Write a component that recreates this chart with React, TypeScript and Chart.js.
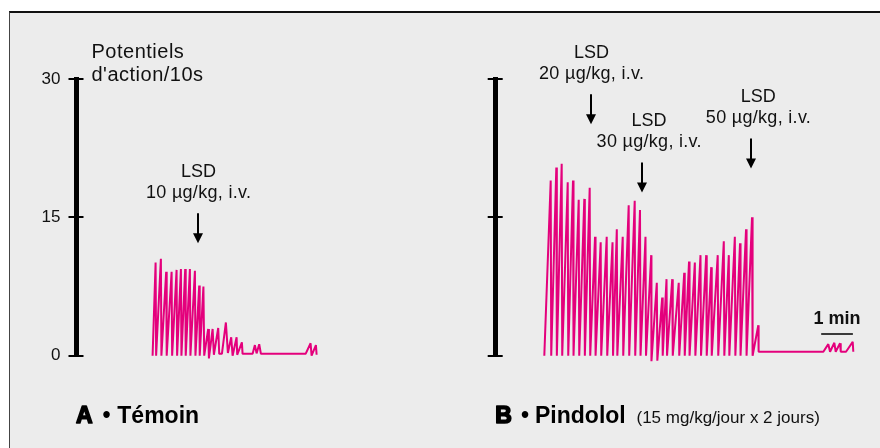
import React, { useEffect, useRef } from 'react';
import { Chart, registerables } from 'chart.js';

Chart.register(...registerables);

// ---------------- data ----------------
const Y_TICKS = [0, 15, 30];
const Y_TITLE = ['Potentiels', "d'action/10s"];
const DRUG = 'LSD';

// Panel A (Témoin): time in s from start of trace, potentiels d'action / 10 s
const TIME_A = [0, 5.7, 6.7, 15.7, 16.7, 25.7, 26.7, 36.0, 37.0, 45.4, 46.4, 53.6, 54.6, 61.7, 62.7, 70.6, 71.6, 80.1, 81.1, 88.2, 89.2, 96.2, 97.7, 105.2, 106.6, 113.6, 116.0, 124.2, 126.1, 131.2, 138.7, 142.5, 148.8, 151.4, 159.0, 160.1, 169.0, 170.3, 189.3, 193.6, 196.8, 201.8, 205.0, 289.6, 299.0, 300.9, 309.1, 310.4];
const RATE_A = [0, 10.1, 0, 10.5, 0, 9.1, 0, 9.1, 0, 9.3, 0, 9.4, 0, 9.4, 0, 9.4, 0, 9.2, 0, 7.6, 0, 7.5, 0, 2.9, -0.3, 2.9, 0.1, 3.0, 0.2, 0.2, 3.6, 0.3, 2.0, 0, 2.0, 0.1, 1.45, 0.2, 0.2, 1.15, 0.25, 1.25, 0.2, 0.2, 1.35, 0, 1.15, 0.1];

// Panel B (Pindolol)
const TIME_B = [0, 12.1, 13.1, 22.7, 23.7, 32.9, 33.9, 44.3, 45.3, 54.3, 55.3, 65.1, 66.1, 75.7, 76.7, 85.9, 86.9, 96.0, 97.0, 106.7, 107.7, 118.1, 119.1, 129.1, 130.1, 137.2, 138.2, 148.4, 149.4, 159.7, 160.7, 171.1, 172.1, 181.1, 182.1, 191.5, 192.5, 202.3, 202.8, 212.9, 213.9, 223.1, 224.1, 231.3, 232.3, 242.1, 243.1, 254.4, 255.4, 264.8, 265.8, 273.9, 274.9, 284.9, 285.9, 295.6, 296.6, 306.4, 307.4, 315.9, 316.9, 328.2, 329.2, 339.7, 340.7, 349.2, 350.2, 360.6, 361.6, 370.4, 371.4, 381.8, 382.8, 393.1, 394.2, 405.0, 405.6, 528.1, 537.5, 540.8, 548.9, 551.5, 559.7, 561.0, 571.0, 583.7, 584.8];
const RATE_B = [0, 19.0, 0, 20.4, 0, 20.8, 0, 18.8, 0, 19.0, 0, 16.9, 0, 17.0, 0, 18.2, 0, 12.9, 0, 12.3, 0, 12.9, 0, 12.3, 0, 13.7, 0, 12.9, 0, 16.3, 0, 16.8, 0, 15.8, 0, 12.9, 0, 10.9, -0.6, 7.9, -0.55, 6.3, 0, 8.3, 0, 8.3, 0, 7.9, 0, 9.0, 0, 10.2, 0, 10.1, 0, 10.9, 0, 10.9, 0, 9.6, 0, 10.9, 0, 12.4, 0, 10.9, 0, 12.9, 0, 12.2, 0, 13.7, 0, 15.0, 0, 3.3, 0.43, 0.43, 1.25, 0.43, 1.4, 0.43, 1.35, 0.43, 0.43, 1.5, 0.43];

// Injections (time s, arrow tip level, label centre time, dose)
const INJ_A_TIME = [86.3];
const INJ_A_TIP = [12.2];
const INJ_A_LABEL_TIME = [86.7];
const INJ_A_DOSE = ['10 µg/kg, i.v.'];

const INJ_B_TIME = [88.4, 184.3, 391.2];
const INJ_B_TIP = [25.1, 17.7, 20.3];
const INJ_B_LABEL_TIME = [89.3, 198.2, 405.0];
const INJ_B_DOSE = ['20 µg/kg, i.v.', '30 µg/kg, i.v.', '50 µg/kg, i.v.'];

// time scale bar (panel B)
const SCALE_BAR_START = 524;
const SCALE_BAR_LEN = 60;
const SCALE_BAR_LEVEL = 2.3;
const SCALE_BAR_LABEL = '1 min';

const PANEL_A_LETTER = 'A';
const PANEL_A_NAME = 'Témoin';
const PANEL_B_LETTER = 'B';
const PANEL_B_NAME = 'Pindolol';
const PANEL_B_NOTE = '(15 mg/kg/jour x 2 jours)';

// ---------------- styles ----------------
const FONT = "'Liberation Sans', Arial, Helvetica, sans-serif";
const TRACE = '#e4007c';
const TEXT = '#111111';

type PanelCfg = {
  time: number[];
  rate: number[];
  xMin: number;
  xMax: number;
  axisLeft: number;
  tickLabels: boolean;
  title: boolean;
  injTime: number[];
  injTip: number[];
  injLabelTime: number[];
  injDose: string[];
  letter: string;
  name: string;
  note?: string;
  bulletDx: number;
  nameDx: number;
  noteDx?: number;
  scaleBar?: boolean;
};

function makePlugin(cfg: PanelCfg) {
  return {
    id: 'panelDecor' + cfg.letter,
    afterDraw(chart: any) {
      const { ctx, chartArea: ca, scales } = chart;
      const x = scales.x;
      const y = scales.y;
      ctx.save();
      // inner half of the axis ticks
      ctx.strokeStyle = '#000';
      ctx.lineWidth = 2;
      for (const v of Y_TICKS) {
        const py = Math.round(y.getPixelForValue(v) - 1) + 1;
        ctx.beginPath();
        ctx.moveTo(ca.left, py);
        ctx.lineTo(ca.left + 7, py);
        ctx.stroke();
      }

      // axis title
      if (cfg.title) {
        ctx.fillStyle = TEXT;
        ctx.font = `20px ${FONT}`;
        ctx.textAlign = 'left';
        ctx.textBaseline = 'alphabetic';
        (ctx as any).letterSpacing = '0.5px';
        ctx.fillText(Y_TITLE[0], ca.left + 15, ca.top - 20.7);
        ctx.fillText(Y_TITLE[1], ca.left + 15, ca.top + 1.7);
        (ctx as any).letterSpacing = '0px';
      }

      // injections: arrow + label
      for (let i = 0; i < cfg.injTime.length; i++) {
        const ax = Math.round(x.getPixelForValue(cfg.injTime[i]));
        const tip = y.getPixelForValue(cfg.injTip[i]);
        const top = tip - 30;
        ctx.strokeStyle = '#000';
        ctx.fillStyle = '#000';
        ctx.lineWidth = 2;
        ctx.beginPath();
        ctx.moveTo(ax, top);
        ctx.lineTo(ax, tip - 8);
        ctx.stroke();
        ctx.beginPath();
        ctx.moveTo(ax - 5, tip - 10);
        ctx.lineTo(ax + 5, tip - 10);
        ctx.lineTo(ax, tip);
        ctx.closePath();
        ctx.fill();

        const lx = x.getPixelForValue(cfg.injLabelTime[i]);
        ctx.fillStyle = TEXT;
        ctx.font = `18px ${FONT}`;
        ctx.textAlign = 'center';
        ctx.textBaseline = 'alphabetic';
        ctx.fillText(DRUG, lx, top - 36);
        (ctx as any).letterSpacing = '0.3px';
        ctx.fillText(cfg.injDose[i], lx + 0.2, top - 15);
        (ctx as any).letterSpacing = '0px';
      }

      // time scale bar
      if (cfg.scaleBar) {
        const x1 = x.getPixelForValue(SCALE_BAR_START);
        const x2 = x.getPixelForValue(SCALE_BAR_START + SCALE_BAR_LEN);
        const by = Math.round(y.getPixelForValue(SCALE_BAR_LEVEL) - 1) + 1;
        ctx.strokeStyle = '#3a3a3a';
        ctx.lineWidth = 2;
        ctx.beginPath();
        ctx.moveTo(x1, by);
        ctx.lineTo(x2, by);
        ctx.stroke();
        ctx.fillStyle = TEXT;
        ctx.font = `bold 18px ${FONT}`;
        ctx.textAlign = 'center';
        ctx.fillText(SCALE_BAR_LABEL, (x1 + x2) / 2, by - 10.5);
      }

      // panel label
      const base = ca.bottom + 67.6;
      const x0 = ca.left - 0.5;
      ctx.fillStyle = '#000';
      ctx.strokeStyle = '#000';
      ctx.textAlign = 'left';
      ctx.font = `bold 23px ${FONT}`;
      ctx.lineWidth = 1.6;
      ctx.lineJoin = 'round';
      ctx.fillText(cfg.letter, x0, base);
      ctx.strokeText(cfg.letter, x0, base);
      ctx.textAlign = 'center';
      ctx.fillText('•', x0 + cfg.bulletDx, base);
      ctx.textAlign = 'left';
      ctx.fillText(cfg.name, x0 + cfg.nameDx, base);
      if (cfg.note && cfg.noteDx !== undefined) {
        ctx.fillStyle = TEXT;
        ctx.font = `17px ${FONT}`;
        ctx.fillText(cfg.note, x0 + cfg.noteDx, base);
      }
      ctx.restore();
    },
  };
}

function buildChart(canvas: HTMLCanvasElement, cfg: PanelCfg) {
  const points = cfg.time.map((t, i) => ({ x: t, y: cfg.rate[i] }));
  return new Chart(canvas, {
    type: 'line',
    data: {
      datasets: [
        {
          data: points,
          borderColor: TRACE,
          borderWidth: 2,
          borderJoinStyle: 'bevel',
          pointRadius: 0,
          tension: 0,
          fill: false,
          clip: false as any,
        } as any,
      ],
    },
    options: {
      animation: false,
      responsive: false,
      devicePixelRatio: 1,
      events: [],
      layout: { padding: { left: 0, top: 79, right: 10, bottom: 92.3 } },
      plugins: {
        legend: { display: false },
        tooltip: { enabled: false },
        title: { display: false },
      },
      scales: {
        x: { type: 'linear', display: false, min: cfg.xMin, max: cfg.xMax },
        y: {
          type: 'linear',
          position: 'left',
          min: Y_TICKS[0],
          max: Y_TICKS[Y_TICKS.length - 1],
          afterBuildTicks: (s: any) => {
            s.ticks = Y_TICKS.map((v) => ({ value: v }));
          },
          afterFit: (s: any) => {
            s.width = cfg.axisLeft;
          },
          border: { display: true, width: 5, color: '#000' },
          grid: {
            drawOnChartArea: false,
            drawTicks: true,
            tickLength: 8,
            lineWidth: 2,
            color: '#000',
          },
          ticks: {
            display: cfg.tickLabels,
            padding: 8,
            color: TEXT,
            font: { family: FONT, size: 17 },
          },
        } as any,
      },
    },
    plugins: [makePlugin(cfg)],
  } as any);
}

const CFG_A: PanelCfg = {
  time: TIME_A,
  rate: RATE_A,
  xMin: -144,
  xMax: 525,
  axisLeft: 76.5,
  tickLabels: true,
  title: true,
  injTime: INJ_A_TIME,
  injTip: INJ_A_TIP,
  injLabelTime: INJ_A_LABEL_TIME,
  injDose: INJ_A_DOSE,
  letter: PANEL_A_LETTER,
  name: PANEL_A_NAME,
  bulletDx: 30.5,
  nameDx: 41.3,
};

const CFG_B: PanelCfg = {
  time: TIME_B,
  rate: RATE_B,
  xMin: -92,
  xMax: 616.4,
  axisLeft: 55.7,
  tickLabels: false,
  title: false,
  injTime: INJ_B_TIME,
  injTip: INJ_B_TIP,
  injLabelTime: INJ_B_LABEL_TIME,
  injDose: INJ_B_DOSE,
  letter: PANEL_B_LETTER,
  name: PANEL_B_NAME,
  note: PANEL_B_NOTE,
  bulletDx: 29.8,
  nameDx: 39.8,
  noteDx: 141.3,
  scaleBar: true,
};

function Panel({ left, cfg }: { left: number; cfg: PanelCfg }) {
  const ref = useRef<HTMLCanvasElement | null>(null);
  useEffect(() => {
    if (!ref.current) return;
    const chart = buildChart(ref.current, cfg);
    return () => chart.destroy();
  }, [cfg]);
  return (
    <canvas
      ref={ref}
      width={440}
      height={448}
      style={{ position: 'absolute', left, top: 0, width: 440, height: 448 }}
    />
  );
}

export default function App() {
  return (
    <div
      style={{
        position: 'fixed',
        left: 0,
        top: 0,
        width: 880,
        height: 448,
        background: '#ffffff',
        overflow: 'hidden',
      }}
    >
      <div
        style={{
          position: 'absolute',
          left: 9,
          top: 11,
          width: 900,
          height: 460,
          background: '#ececec',
          borderLeft: '1px solid #444',
          borderTop: '2px solid #111',
        }}
      />
      <Panel left={0} cfg={CFG_A} />
      <Panel left={440} cfg={CFG_B} />
    </div>
  );
}
